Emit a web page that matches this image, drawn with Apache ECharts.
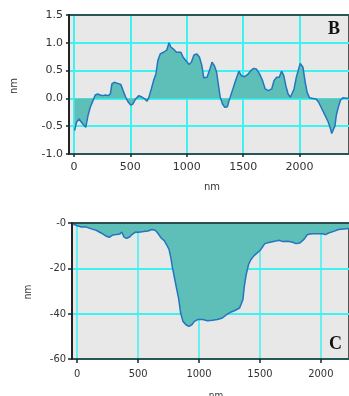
<!DOCTYPE html>
<html>
<head>
<meta charset="utf-8">
<script src="https://cdn.jsdelivr.net/npm/echarts@6/dist/echarts.min.js"></script>
<style>
  html, body { margin: 0; padding: 0; background: #fff; }
  #chart { width: 349px; height: 396px; }
</style>
</head>
<body>
<div id="chart"></div>
<script>
// Profile B: height (nm) along the scan line (nm)
const profileBDistance = [6, 23, 47, 67, 87, 105, 116, 125, 145, 169, 189, 212, 233, 256, 279, 305, 323, 337, 358, 387, 416, 436, 459, 483, 503, 523, 547, 576, 605, 628, 648, 663, 686, 706, 727, 744, 765, 794, 823, 843, 860, 881, 910, 948, 968, 997, 1020, 1041, 1064, 1090, 1113, 1134, 1151, 1180, 1201, 1224, 1244, 1265, 1279, 1297, 1317, 1337, 1360, 1375, 1404, 1433, 1462, 1483, 1512, 1541, 1564, 1593, 1616, 1645, 1672, 1695, 1724, 1753, 1773, 1797, 1820, 1840, 1860, 1878, 1898, 1919, 1936, 1951, 1971, 1985, 2006, 2030, 2050, 2067, 2088, 2117, 2146, 2169, 2198, 2227, 2253, 2270, 2285, 2299, 2314, 2325, 2343, 2363, 2384, 2401, 2440];
const profileBHeight = [-0.58, -0.43, -0.37, -0.43, -0.48, -0.52, -0.51, -0.31, -0.16, -0.04, 0.06, 0.08, 0.06, 0.05, 0.06, 0.05, 0.08, 0.26, 0.29, 0.27, 0.25, 0.14, 0.02, -0.07, -0.12, -0.10, -0.01, 0.05, 0.02, -0.01, -0.05, 0.01, 0.17, 0.32, 0.44, 0.68, 0.80, 0.83, 0.87, 1.0, 0.92, 0.89, 0.83, 0.83, 0.74, 0.67, 0.61, 0.65, 0.78, 0.80, 0.74, 0.59, 0.37, 0.38, 0.50, 0.65, 0.59, 0.47, 0.26, 0.02, -0.10, -0.16, -0.15, -0.04, 0.14, 0.32, 0.49, 0.41, 0.39, 0.43, 0.49, 0.54, 0.53, 0.44, 0.32, 0.17, 0.14, 0.17, 0.32, 0.38, 0.38, 0.49, 0.41, 0.23, 0.08, 0.02, 0.02, 0.17, 0.38, 0.41, 0.63, 0.56, 0.29, 0.11, 0.01, 0.0, -0.01, -0.07, -0.19, -0.31, -0.42, -0.52, -0.63, -0.63, -0.49, -0.31, -0.16, -0.03, 0.01, 0.0, 0.0];

// Profile C: depth (nm) along the scan line (nm)
const profileCDistance = [-42, 0, 35, 75, 116, 156, 196, 231, 263, 290, 323, 349, 366, 384, 406, 430, 452, 478, 505, 546, 581, 613, 640, 661, 688, 715, 734, 753, 769, 780, 796, 815, 833, 849, 868, 895, 917, 941, 962, 989, 1030, 1070, 1110, 1150, 1191, 1226, 1258, 1290, 1333, 1347, 1360, 1371, 1387, 1406, 1425, 1452, 1478, 1505, 1540, 1581, 1621, 1656, 1688, 1728, 1769, 1796, 1828, 1863, 1890, 1930, 1970, 2011, 2038, 2064, 2105, 2145, 2185, 2231];
const profileCHeight = [-0.3, -1.2, -1.8, -1.8, -2.6, -3.2, -4.4, -5.6, -6.3, -5.3, -5.1, -4.9, -4.0, -6.2, -6.8, -6.2, -5.0, -4.0, -4.1, -3.8, -3.5, -2.9, -3.2, -4.4, -6.6, -7.8, -9.6, -11.5, -15.4, -19.1, -23.5, -28.7, -33.5, -39.7, -43.4, -45.0, -45.6, -44.9, -43.4, -42.6, -42.6, -43.1, -42.9, -42.6, -41.9, -40.4, -39.4, -38.7, -37.5, -37.1, -33.8, -28.2, -22.8, -18.4, -16.2, -14.4, -13.2, -11.8, -9.1, -8.5, -8.1, -7.6, -8.2, -8.1, -8.5, -9.1, -8.8, -7.1, -5.1, -4.7, -4.7, -4.7, -5.1, -4.4, -3.7, -2.9, -2.6, -2.4];

// Tick values
const distanceTicks = [0, 500, 1000, 1500, 2000];
const profileBYTicks = { min: -1, max: 1.5, step: 0.5 };
const profileCYTicks = { min: -60, max: 0, step: 20 };

const gridCyan = '#3ff2f2';
const plotGray = '#e8e8e8';
const fillTeal = '#5dbfb8';
const lineBlue = '#2176bd';
const frame = '#222';
const labelFont = 'DejaVu Sans, Verdana, sans-serif';
const narrowFont = '"DejaVu Sans Condensed", "Liberation Sans Narrow", "DejaVu Sans", sans-serif';

const xRange = [{ min: -43.5, max: 2438 }, { min: -42.7, max: 2231 }];
const yRange = [profileBYTicks, profileCYTicks];

const pairs = (xs, ys) => xs.map((x, i) => [x, ys[i]]);

// Plain frame edges drawn above the filled area
const frameAxis = (gridIndex, position, range) => ({
  type: 'value', gridIndex, position, z: 5, min: range.min, max: range.max,
  axisLine: { show: true, onZero: false, lineStyle: { color: frame, width: 1.5 } },
  axisTick: { show: false }, axisLabel: { show: false }, splitLine: { show: false }
});

const chart = echarts.init(document.getElementById('chart'), null, { renderer: 'canvas' });

chart.setOption({
  animation: false,
  backgroundColor: '#fff',
  grid: [
    { left: 69, top: 15, right: -5, bottom: 242, show: true, backgroundColor: plotGray,
      borderColor: frame, borderWidth: 1.5 },
    { left: 72, top: 223, right: -5, bottom: 37, show: true, backgroundColor: plotGray,
      borderColor: frame, borderWidth: 1.5 }
  ],
  xAxis: [
    {
      type: 'value', gridIndex: 0, min: xRange[0].min, max: xRange[0].max,
      axisLine: { show: true, onZero: false, lineStyle: { color: frame, width: 1.5 } },
      axisTick: { show: true, customValues: distanceTicks, length: 3, lineStyle: { color: frame, width: 1.5 } },
      axisLabel: { customValues: distanceTicks, margin: 8, color: '#333', fontSize: 11, fontFamily: labelFont,
        formatter: v => String(v) },
      splitLine: { show: true, lineStyle: { color: gridCyan, width: 2 } }
    },
    {
      type: 'value', gridIndex: 1, min: xRange[1].min, max: xRange[1].max,
      axisLine: { show: true, onZero: false, lineStyle: { color: frame, width: 1.5 } },
      axisTick: { show: true, customValues: distanceTicks, length: 4, lineStyle: { color: frame, width: 1.5 } },
      axisLabel: { customValues: distanceTicks, margin: 10, color: '#333', fontSize: 11, fontFamily: narrowFont,
        formatter: v => String(v) },
      splitLine: { show: true, lineStyle: { color: gridCyan, width: 1.5 } }
    },
    frameAxis(0, 'top', xRange[0]),
    frameAxis(1, 'top', xRange[1])
  ],
  yAxis: [
    {
      type: 'value', gridIndex: 0,
      min: profileBYTicks.min, max: profileBYTicks.max, interval: profileBYTicks.step,
      axisLine: { show: true, onZero: false, lineStyle: { color: frame, width: 1.5 } },
      axisTick: { show: true, length: 3, lineStyle: { color: frame, width: 1.5 } },
      axisLabel: { margin: 6, color: '#333', fontSize: 11, fontFamily: labelFont,
        formatter: v => v.toFixed(1) },
      splitLine: { show: true, lineStyle: { color: gridCyan, width: 2 } }
    },
    {
      type: 'value', gridIndex: 1,
      min: profileCYTicks.min, max: profileCYTicks.max, interval: profileCYTicks.step,
      axisLine: { show: true, onZero: false, lineStyle: { color: frame, width: 1.5 } },
      axisTick: { show: true, length: 4, lineStyle: { color: frame, width: 1.5 } },
      axisLabel: { margin: 6, color: '#333', fontSize: 11, fontFamily: narrowFont,
        formatter: v => (v === 0 ? '-0' : String(v)) },
      splitLine: { show: true, lineStyle: { color: gridCyan, width: 2 } }
    },
    frameAxis(0, 'left', yRange[0]),
    frameAxis(1, 'left', yRange[1])
  ],
  series: [
    {
      type: 'line', xAxisIndex: 0, yAxisIndex: 0, data: pairs(profileBDistance, profileBHeight),
      showSymbol: false, smooth: false,
      lineStyle: { color: lineBlue, width: 1.5 },
      areaStyle: { color: fillTeal, opacity: 1 }
    },
    {
      type: 'line', xAxisIndex: 1, yAxisIndex: 1, data: pairs(profileCDistance, profileCHeight),
      showSymbol: false, smooth: false,
      lineStyle: { color: lineBlue, width: 1.5 },
      areaStyle: { color: fillTeal, opacity: 1 }
    }
  ],
  graphic: [
    { type: 'text', left: 328, top: 20, style: { text: 'B', font: 'bold 18px "Liberation Serif", "DejaVu Serif", serif', fill: '#111' } },
    { type: 'text', left: 329, top: 335, style: { text: 'C', font: 'bold 18px "Liberation Serif", "DejaVu Serif", serif', fill: '#111' } },
    { type: 'text', x: 212, y: 187, style: { text: 'nm', font: '10px ' + labelFont, fill: '#333', align: 'center', verticalAlign: 'middle' } },
    { type: 'text', x: 14, y: 86, rotation: Math.PI / 2, style: { text: 'nm', font: '10px ' + labelFont, fill: '#333', align: 'center', verticalAlign: 'middle' } },
    { type: 'text', x: 216, y: 396, style: { text: 'nm', font: '10px ' + narrowFont, fill: '#333', align: 'center', verticalAlign: 'middle' } },
    { type: 'text', x: 28, y: 292, rotation: Math.PI / 2, style: { text: 'nm', font: '10px ' + narrowFont, fill: '#333', align: 'center', verticalAlign: 'middle' } }
  ]
});
</script>
</body>
</html>
